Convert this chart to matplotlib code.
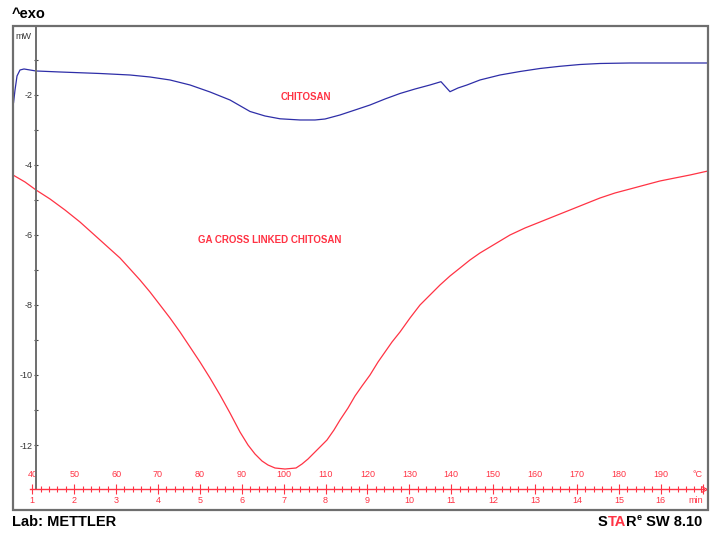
import numpy as np
import matplotlib
matplotlib.use('Agg')
import matplotlib.pyplot as plt
from matplotlib.patches import Rectangle
from matplotlib.ticker import FixedLocator, FixedFormatter

plt.rcParams['font.family'] = ['Liberation Sans', 'DejaVu Sans']
plt.rcParams['axes.unicode_minus'] = False

# time in min, heat flow in mW
t_chitosan = [0.54, 0.551, 0.587, 0.635, 0.706, 0.802, 0.945, 1.088, 1.661, 2.616,
              3.332, 3.809, 4.286, 4.764, 5.241, 5.718, 6.196, 6.554, 6.912, 7.389,
              7.747, 7.986, 8.344, 8.702, 9.060, 9.418, 9.776, 10.134, 10.492, 10.754,
              10.969, 11.160, 11.375, 11.685, 12.162, 12.640, 13.117, 13.594, 14.072,
              14.549, 15.265, 17.127]
hf_chitosan = [-1.343, -2.229, -1.857, -1.457, -1.286, -1.257, -1.286, -1.314, -1.343,
               -1.386, -1.429, -1.486, -1.571, -1.714, -1.914, -2.143, -2.471, -2.600,
               -2.680, -2.714, -2.714, -2.686, -2.571, -2.429, -2.286, -2.114, -1.957,
               -1.829, -1.714, -1.620, -1.906, -1.800, -1.714, -1.571, -1.429, -1.329,
               -1.243, -1.180, -1.129, -1.100, -1.086, -1.086]

t_ga = [0.539, 0.826, 1.088, 1.422, 1.780, 2.138, 2.377, 2.616, 2.854, 3.093, 3.332,
        3.570, 3.809, 4.048, 4.286, 4.525, 4.764, 5.002, 5.241, 5.480, 5.718, 5.957,
        6.148, 6.315, 6.482, 6.625, 6.792, 7.031, 7.294, 7.437, 7.580, 7.747, 7.890,
        8.033, 8.200, 8.344, 8.535, 8.702, 8.869, 9.060, 9.251, 9.418, 9.585, 9.776,
        10.015, 10.253, 10.492, 10.730, 10.969, 11.208, 11.446, 11.685, 12.043, 12.401,
        12.759, 13.117, 13.475, 13.833, 14.191, 14.549, 14.907, 15.265, 15.623, 15.981,
        16.339, 16.697, 17.127]
hf_ga = [-4.286, -4.486, -4.714, -4.971, -5.286, -5.629, -5.886, -6.143, -6.400, -6.657,
         -6.971, -7.286, -7.629, -8.000, -8.371, -8.771, -9.200, -9.629, -10.086,
         -10.571, -11.086, -11.629, -12.000, -12.257, -12.457, -12.571, -12.657, -12.686,
         -12.657, -12.543, -12.400, -12.200, -12.029, -11.857, -11.571, -11.286, -10.943,
         -10.600, -10.314, -10.000, -9.629, -9.343, -9.057, -8.771, -8.371, -8.000,
         -7.714, -7.429, -7.171, -6.943, -6.714, -6.514, -6.257, -6.000, -5.800, -5.629,
         -5.457, -5.286, -5.114, -4.943, -4.800, -4.686, -4.571, -4.457, -4.371, -4.286,
         -4.171]

min_ticks = list(range(1, 18))
min_labels = [str(m) for m in range(1, 17)] + ['min']
min_minor = [round(1 + 0.2 * i, 1) for i in range(81)]
temp_ticks = list(range(40, 201, 10))
temp_labels = [str(T) for T in range(40, 200, 10)] + ['°C']
y_major = [-2, -4, -6, -8, -10, -12]
y_minor = [-1, -3, -5, -7, -9, -11]

red = '#ff3344'
blue = '#2e2ea8'
gray = '#6e6e6e'

fig = plt.figure(figsize=(7.1, 5.33), dpi=100)
ax = fig.add_axes([13/710, 1 - 510/533, 695/710, 484/533])
ax.set_xlim(0.539, 17.127)
ax.set_ylim(-13.857, -0.029)

ax.plot(t_chitosan, hf_chitosan, color=blue, lw=0.9)
ax.plot(t_ga, hf_ga, color=red, lw=0.9)

ax.text(7.53, -2.06, 'CHITOSAN', color=red, fontsize=7, fontweight='bold',
        ha='center', va='center')
ax.text(6.67, -6.14, 'GA CROSS LINKED CHITOSAN', color=red, fontsize=7,
        fontweight='bold', ha='center', va='center')

# frame
for s in ['top', 'right']:
    ax.spines[s].set_visible(False)
ax.add_patch(Rectangle((0, 0), 1, 1, transform=ax.transAxes, fill=False,
                       edgecolor=gray, lw=1.6, clip_on=False, zorder=5))

# y axis inside the frame
axis_y = -13.257
ax.spines['left'].set_position(('data', 1.088))
ax.spines['left'].set_bounds(axis_y, -0.029)
ax.spines['left'].set_color(gray)
ax.spines['left'].set_linewidth(1.4)
ax.yaxis.set_major_locator(FixedLocator(y_major))
ax.yaxis.set_minor_locator(FixedLocator(y_minor))
ax.tick_params(axis='y', which='both', direction='inout', length=3, width=0.8,
               color='#444444', labelsize=6.5, labelcolor='#333333', pad=1)
ax.text(0.6, -0.2, 'mW', fontsize=6.5, color='#333333', ha='left', va='top')

# time axis
ax.spines['bottom'].set_position(('data', axis_y))
ax.spines['bottom'].set_bounds(0.95, 17.03)
ax.spines['bottom'].set_color(red)
ax.spines['bottom'].set_linewidth(1.0)
ax.xaxis.set_major_locator(FixedLocator(min_ticks))
ax.xaxis.set_major_formatter(FixedFormatter(min_labels))
ax.xaxis.set_minor_locator(FixedLocator(min_minor))
ax.tick_params(axis='x', which='major', direction='inout', length=7.2, width=0.8,
               color=red, labelcolor=red, labelsize=6.5, pad=1.5)
ax.tick_params(axis='x', which='minor', direction='inout', length=4.3, width=0.8,
               color=red)
ax.plot([17.03], [axis_y], marker='>', ms=4.5, mfc='none', mec=red, mew=0.8,
        clip_on=False)

loc = (axis_y - (-13.857)) / (13.857 - 0.029)
sec = ax.secondary_xaxis(loc, functions=(lambda t: 30 + 10 * t,
                                         lambda T: (T - 30) / 10))
sec.set_alignment('top')
sec.spines['top'].set_visible(False)
sec.spines['bottom'].set_visible(False)
sec.xaxis.set_major_locator(FixedLocator(temp_ticks))
sec.xaxis.set_major_formatter(FixedFormatter(temp_labels))
sec.tick_params(axis='x', length=0, labelcolor=red, labelsize=6.5, pad=7)

# header / footer
fig.text(12/710, 1 - 14/533, '^exo', fontsize=10.5, fontweight='bold',
         ha='left', va='center')
fig.text(12/710, 1 - 522/533, 'Lab: METTLER', fontsize=10.5, fontweight='bold',
         ha='left', va='center')

fig.canvas.draw()
# unit labels at the end of the time axis sit left of the last tick
ax.xaxis.get_major_ticks()[-1].label1.set_horizontalalignment('right')
sec.xaxis.get_major_ticks()[-1].label2.set_horizontalalignment('right')

r = fig.canvas.get_renderer()
x0 = 598 / 710
yy = 1 - 522 / 533
for part, col in [('S', 'black'), ('TA', red), ('R', 'black')]:
    tx = fig.text(x0, yy, part, fontsize=10.5, fontweight='bold', color=col,
                  ha='left', va='center')
    x0 = fig.transFigure.inverted().transform(tx.get_window_extent(r))[1][0]
tx = fig.text(x0, yy + 4/533, 'e', fontsize=6.5, fontweight='bold', ha='left',
              va='center')
x0 = fig.transFigure.inverted().transform(tx.get_window_extent(r))[1][0]
fig.text(x0, yy, ' SW 8.10', fontsize=10.5, fontweight='bold', ha='left',
         va='center')

fig.savefig('out.png', dpi=100)
